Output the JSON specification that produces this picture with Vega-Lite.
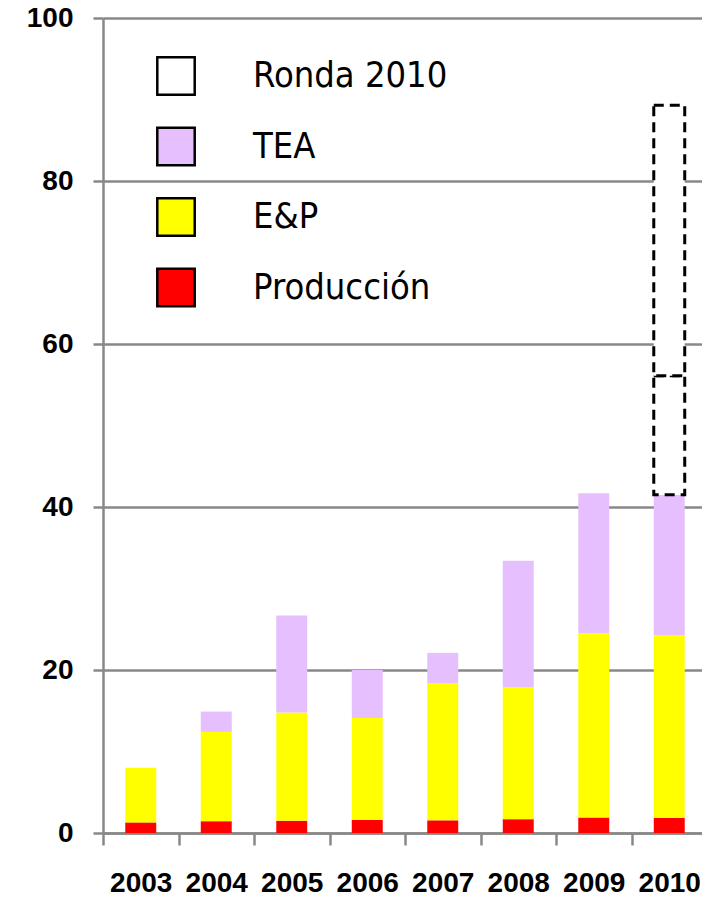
{
  "$schema": "https://vega.github.io/schema/vega-lite/v6.json",
  "autosize": "none",
  "width": 604,
  "height": 815,
  "padding": {"left": 103, "top": 18, "right": 0, "bottom": 66},
  "background": "white",
  "config": {
    "view": {"stroke": null},
    "axis": {
      "domainColor": "#888888",
      "domainWidth": 2.5,
      "tickColor": "#888888",
      "tickWidth": 2.5,
      "gridColor": "#888888",
      "gridWidth": 2.5,
      "labelFont": "Liberation Sans",
      "labelFontWeight": "bold",
      "labelFontSize": 28,
      "labelColor": "black",
      "title": null
    }
  },
  "data": {
    "values": [
      {"anio": "2003", "serie": "Producción", "k": 1, "valor": 1.3},
      {"anio": "2003", "serie": "E&P", "k": 2, "valor": 6.7},
      {"anio": "2004", "serie": "Producción", "k": 1, "valor": 1.45},
      {"anio": "2004", "serie": "E&P", "k": 2, "valor": 10.95},
      {"anio": "2004", "serie": "TEA", "k": 3, "valor": 2.5},
      {"anio": "2005", "serie": "Producción", "k": 1, "valor": 1.5},
      {"anio": "2005", "serie": "E&P", "k": 2, "valor": 13.3},
      {"anio": "2005", "serie": "TEA", "k": 3, "valor": 11.9},
      {"anio": "2006", "serie": "Producción", "k": 1, "valor": 1.6},
      {"anio": "2006", "serie": "E&P", "k": 2, "valor": 12.5},
      {"anio": "2006", "serie": "TEA", "k": 3, "valor": 5.9},
      {"anio": "2007", "serie": "Producción", "k": 1, "valor": 1.55},
      {"anio": "2007", "serie": "E&P", "k": 2, "valor": 16.85},
      {"anio": "2007", "serie": "TEA", "k": 3, "valor": 3.7},
      {"anio": "2008", "serie": "Producción", "k": 1, "valor": 1.7},
      {"anio": "2008", "serie": "E&P", "k": 2, "valor": 16.2},
      {"anio": "2008", "serie": "TEA", "k": 3, "valor": 15.5},
      {"anio": "2009", "serie": "Producción", "k": 1, "valor": 1.9},
      {"anio": "2009", "serie": "E&P", "k": 2, "valor": 22.6},
      {"anio": "2009", "serie": "TEA", "k": 3, "valor": 17.2},
      {"anio": "2010", "serie": "Producción", "k": 1, "valor": 1.85},
      {"anio": "2010", "serie": "E&P", "k": 2, "valor": 22.45},
      {"anio": "2010", "serie": "TEA", "k": 3, "valor": 17.2},
      {"anio": "2010", "serie": "Ronda 2010", "k": 4, "valor": 14.6},
      {"anio": "2010", "serie": "Ronda 2010", "k": 5, "valor": 33.2}
    ]
  },
  "mark": {"type": "bar", "filled": true, "width": {"band": 0.41}, "strokeWidth": 3},
  "encoding": {
    "x": {
      "field": "anio",
      "type": "nominal",
      "scale": {"paddingInner": 0, "paddingOuter": 0},
      "axis": {
        "labelAngle": 0,
        "tickBand": "extent",
        "tickSize": 12,
        "labelPadding": 24,
        "grid": false
      }
    },
    "y": {
      "field": "valor",
      "type": "quantitative",
      "stack": "zero",
      "scale": {"domain": [0, 100], "nice": false},
      "axis": {
        "values": [0, 20, 40, 60, 80, 100],
        "tickSize": 10,
        "labelPadding": 20,
        "grid": true,
        "domain": true
      }
    },
    "order": {"field": "k", "type": "quantitative"},
    "detail": {"field": "k", "type": "quantitative"},
    "color": {
      "field": "serie",
      "type": "nominal",
      "scale": {
        "domain": ["Ronda 2010", "TEA", "E&P", "Producción"],
        "range": ["#FFFFFF", "#E6BFFF", "#FFFF00", "#FF0000"]
      },
      "legend": {
        "orient": "none",
        "legendX": 53,
        "legendY": 38,
        "title": null,
        "padding": 0,
        "symbolType": "square",
        "symbolSize": 1400,
        "symbolStrokeColor": "black",
        "symbolStrokeWidth": 2.5,
        "symbolDash": [],
        "rowPadding": 22.5,
        "labelOffset": 57,
        "labelFont": "DejaVu Sans Condensed",
        "labelFontSize": 36,
        "labelColor": "black",
        "labelLimit": 400
      }
    },
    "stroke": {
      "condition": {"test": "datum.serie === 'Ronda 2010'", "value": "black"},
      "value": null
    },
    "strokeDash": {
      "condition": {"test": "datum.serie === 'Ronda 2010'", "value": [10, 6]},
      "value": []
    }
  }
}
